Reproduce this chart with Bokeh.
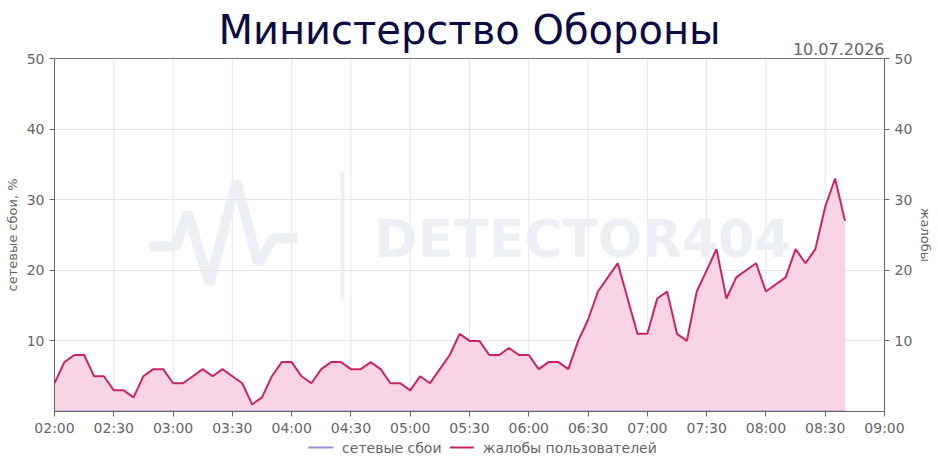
import pandas as pd
from bokeh.plotting import figure
from bokeh.layouts import column
from bokeh.models import (Range1d, LinearAxis, FixedTicker, DatetimeTickFormatter,
                          Span, ColumnDataSource)
from bokeh.core.properties import value
from bokeh.embed import file_html
from bokeh.resources import INLINE

TITLE = "Министерство Обороны"
DATE_TEXT = "10.07.2026"
DAY = "2026-07-10"
START = "02:00"
STEP = "5min"
LEFT_LABEL = "сетевые сбои, %"
RIGHT_LABEL = "жалобы"
SERIES_NAMES = ["сетевые сбои", "жалобы пользователей"]
WATERMARK = "DETECTOR404"

complaints = [4, 7, 8, 8, 5, 5, 3, 3, 2, 5,
              6, 6, 4, 4, 5, 6, 5, 6, 5, 4,
              1, 2, 5, 7, 7, 5, 4, 6, 7, 7,
              6, 6, 7, 6, 4, 4, 3, 5, 4, 6,
              8, 11, 10, 10, 8, 8, 9, 8, 8, 6,
              7, 7, 6, 10, 13, 17, 19, 21, 16, 11,
              11, 16, 17, 11, 10, 17, 20, 23, 16, 19,
              20, 21, 17, 18, 19, 23, 21, 23, 29, 33,
              27]
failures = [0, 0, 0, 0, 0, 0, 0, 0, 0, 0,
            0, 0, 0, 0, 0, 0, 0, 0, 0, 0,
            0, 0, 0, 0, 0, 0, 0, 0, 0, 0,
            0, 0, 0, 0, 0, 0, 0, 0, 0, 0,
            0, 0, 0, 0, 0, 0, 0, 0, 0, 0,
            0, 0, 0, 0, 0, 0, 0, 0, 0, 0,
            0, 0, 0, 0, 0, 0, 0, 0, 0, 0,
            0, 0, 0, 0, 0, 0, 0, 0, 0, 0,
            0]
x_tick_labels = ["02:00", "02:30", "03:00", "03:30", "04:00", "04:30", "05:00",
                 "05:30", "06:00", "06:30", "07:00", "07:30", "08:00", "08:30", "09:00"]
y_ticks = [10, 20, 30, 40, 50]
y_min, y_max = 0, 50

# ---- layout (canvas pixels) ----
W = 938
FRAME_L, FRAME_R = 54, 884
FRAME_BOTTOM = 411               # pixel of value 0 (frame starts at canvas top)
PLOT_TOP = 58                    # pixel of value 50
BOTTOM_BORDER = 28
LEGEND_H = 30
Y_TOP = y_max * FRAME_BOTTOM / (FRAME_BOTTOM - PLOT_TOP)
NBSP_PAD = "\u00a0" * 14         # recentres the axis titles on the 0..50 span

# decorative watermark, in canvas pixel coordinates
LOGO_X = [148.7, 175.6, 187.0, 209.0, 236.0, 257.5, 273.0, 297.4]
LOGO_Y = [245.7, 245.7, 212.0, 283.0, 181.0, 263.0, 237.7, 237.7]

FONT = "DejaVu Sans"
GREY = "#666666"
GRID = "#e6e6e6"
C_LINE = "#cc2462"
C_FILL = "#f8d4e4"
C_FAIL = "#9b8fd9"
WM = "#eceff3"

times = pd.date_range(f"{DAY} {START}", periods=len(complaints), freq=STEP)
src = ColumnDataSource(dict(t=times, c=complaints, f=failures, base=[y_min] * len(complaints)))
tick_times = [pd.Timestamp(f"{DAY} {s}") for s in x_tick_labels]
tick_ms = [ts.value // 10**6 for ts in tick_times]

p = figure(frame_width=FRAME_R - FRAME_L, frame_height=FRAME_BOTTOM,
           output_backend="svg", toolbar_location=None,
           x_axis_type="datetime",
           x_range=Range1d(tick_times[0], tick_times[-1]),
           y_range=Range1d(y_min, Y_TOP),
           min_border_left=FRAME_L, min_border_right=W - FRAME_R,
           min_border_top=0, min_border_bottom=BOTTOM_BORDER)
p.extra_y_ranges = {"cmp": Range1d(y_min, Y_TOP), "px": Range1d(FRAME_BOTTOM, 0)}
p.extra_x_ranges = {"px": Range1d(FRAME_L, FRAME_R)}

p.background_fill_color = "white"
p.border_fill_color = "white"
p.outline_line_color = None

xt = FixedTicker(ticks=tick_ms)
yt = FixedTicker(ticks=y_ticks)
p.xaxis.ticker = xt
p.xaxis.formatter = DatetimeTickFormatter(minutes="%H:%M", hourmin="%H:%M", hours="%H:%M")
p.yaxis.ticker = yt
p.yaxis.bounds = (y_min, y_max)
p.xgrid.visible = False
p.ygrid.ticker = yt
p.ygrid.grid_line_color = GRID

right = LinearAxis(y_range_name="cmp", ticker=yt, axis_label=NBSP_PAD + RIGHT_LABEL,
                   bounds=(y_min, y_max))
p.add_layout(right, "right")
p.yaxis[0].axis_label = LEFT_LABEL + NBSP_PAD

for ax in [p.xaxis[0], p.yaxis[0], right]:
    ax.axis_line_color = GREY
    ax.major_tick_line_color = GREY
    ax.minor_tick_line_color = None
    ax.major_tick_in = 0
    ax.major_tick_out = 5
    ax.major_label_text_color = GREY
    ax.major_label_text_font = FONT
    ax.major_label_text_font_size = "14px"
    ax.major_label_standoff = 5
    ax.axis_label_text_color = GREY
    ax.axis_label_text_font = FONT
    ax.axis_label_text_font_size = "13px"
    ax.axis_label_text_font_style = "normal"
    ax.axis_label_standoff = 4
p.xaxis[0].major_label_standoff = 3
right.axis_label_standoff = 3

# vertical grid lines (only up to the top value) and top border line
p.segment(x0=tick_times, y0=[y_min] * len(tick_times), x1=tick_times, y1=[y_max] * len(tick_times),
          line_color=GRID, line_width=1, level="underlay")
p.add_layout(Span(location=y_max, dimension="width", line_color="#777777", line_width=1))

# watermark
p.line(x=LOGO_X, y=LOGO_Y, x_range_name="px", y_range_name="px",
       line_color=WM, line_width=10, line_join="bevel", level="underlay")
p.segment(x0=[342], y0=[172], x1=[342], y1=[300], x_range_name="px",
          y_range_name="px", line_color=WM, line_width=4, level="underlay")
p.text(x=[374], y=[238], text=[WATERMARK], x_range_name="px", y_range_name="px",
       text_font=value(FONT), text_font_style="bold", text_font_size="52px",
       text_color=WM, text_baseline="middle", level="underlay")

# data
p.varea(x="t", y1="base", y2="c", source=src, fill_color=C_FILL, y_range_name="cmp")
p.line(x="t", y="f", source=src, line_color=C_FAIL, line_width=2)
p.line(x="t", y="c", source=src, line_color=C_LINE, line_width=2, y_range_name="cmp")

# title and date (inside the frame's top strip)
p.text(x=[(FRAME_L + FRAME_R) / 2], y=[29], text=[TITLE], x_range_name="px", y_range_name="px",
       text_font=value(FONT), text_font_size="40px", text_color="#0b0b45",
       text_align="center", text_baseline="middle")
p.text(x=[FRAME_R], y=[48], text=[DATE_TEXT], x_range_name="px", y_range_name="px",
       text_font=value(FONT), text_font_size="16px", text_color=GREY,
       text_align="right", text_baseline="middle")

# legend strip below the chart
LEG_Y = 447 - (FRAME_BOTTOM + BOTTOM_BORDER)
leg = figure(width=W, height=LEGEND_H, output_backend="svg", toolbar_location=None,
             x_range=Range1d(0, W), y_range=Range1d(LEGEND_H, 0),
             x_axis_type=None, y_axis_type=None, min_border=0)
leg.outline_line_color = None
leg.grid.visible = False
leg.segment(x0=[287, 447], y0=[LEG_Y, LEG_Y], x1=[315, 474], y1=[LEG_Y, LEG_Y],
            line_color=[C_FAIL, C_LINE], line_width=2)
leg.text(x=[325, 484], y=[LEG_Y, LEG_Y], text=SERIES_NAMES,
         text_font=value(FONT), text_font_size="14px", text_color=GREY,
         text_baseline="middle")

layout = column(p, leg, spacing=0)
open("out.html", "w").write(file_html(layout, INLINE))
